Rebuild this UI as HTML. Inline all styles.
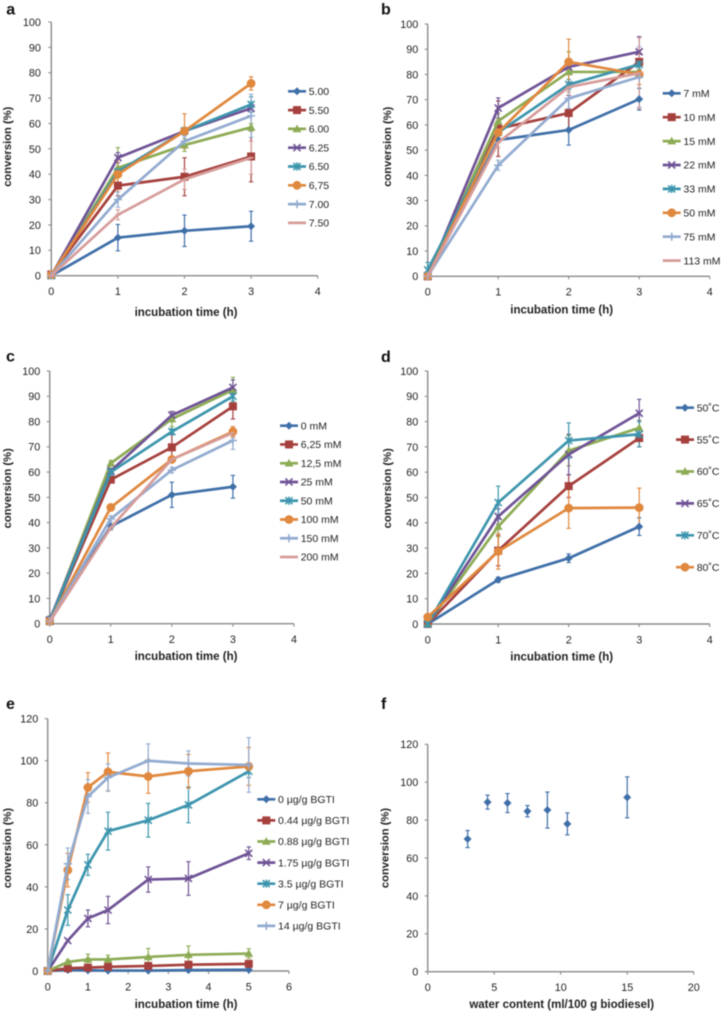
<!DOCTYPE html>
<html lang="en">
<head>
<meta charset="utf-8">
<title>Conversion charts</title>
<style>
html,body{margin:0;padding:0;background:#fff;}
#figure{display:block;width:722px;height:1012px;filter:blur(0.4px);}
text{font-family:"Liberation Sans",sans-serif;fill:#222;}
</style>
</head>
<body>
<svg id="figure" xmlns="http://www.w3.org/2000/svg" width="722" height="1012" viewBox="0 0 722 1012"></svg>
<script>
// ---------- shared ticks ----------
const timeTicksShort = [0, 1, 2, 3, 4];
const percentTicks100 = [0, 10, 20, 30, 40, 50, 60, 70, 80, 90, 100];
const percentTicks120 = [0, 20, 40, 60, 80, 100, 120];
const timeTicksLong = [0, 1, 2, 3, 4, 5, 6];
const waterTicks = [0, 5, 10, 15, 20];

// ---------- panel a ----------
const aTimes = [0, 1, 2, 3];
const aNames = ["5.00", "5.50", "6.00", "6.25", "6.50", "6,75", "7.00", "7.50"];
const aValues = [
  [0, 15, 17.7, 19.5],
  [0.5, 35.5, 39, 47],
  [0, 42.5, 51.5, 58.5],
  [0, 46.5, 57, 66],
  [0, 41, 57, 67.5],
  [0.3, 40, 57, 75.8],
  [0, 30, 53, 63],
  [0, 24, 38, 46.5]
];
const aErrors = [
  [0, 5.2, 6.2, 5.9],
  [0, 4, 7.5, 10],
  [0, 8, 2.5, 1.5],
  [0, 2, 1, 1.5],
  [0, 1.5, 1.5, 3],
  [0, 7, 6.8, 2.6],
  [0, 3, 2, 8.5],
  [0, 2, 4, 6.5]
];

// ---------- panel b ----------
const bTimes = [0, 1, 2, 3];
const bNames = ["7 mM", "10 mM", "15 mM", "22 mM", "33 mM", "50 mM", "75 mM", "113 mM"];
const bValues = [
  [0, 54, 58, 70.2],
  [0, 58.5, 64.7, 85],
  [0, 61.5, 81, 81],
  [0, 66.7, 83, 89],
  [2.5, 57, 76, 84],
  [0, 57, 85, 80],
  [0, 44, 70.5, 79],
  [0, 53, 75, 80.5]
];
const bErrors = [
  [0, 1, 6, 4.3],
  [0, 11, 7, 3],
  [0, 3, 8, 5],
  [0, 4, 1, 6],
  [3, 2, 2, 2],
  [0, 3, 9, 4],
  [0, 2, 4, 12],
  [0, 2, 2, 14]
];

// ---------- panel c ----------
const cTimes = [0, 1, 2, 3];
const cNames = ["0 mM", "6,25 mM", "12,5 mM", "25 mM", "50 mM", "100 mM", "150 mM", "200 mM"];
const cValues = [
  [1.5, 38.5, 51, 54.2],
  [1, 57, 69.8, 86],
  [1, 63.5, 81, 92.5],
  [1.5, 60.5, 82.5, 93.5],
  [1, 60, 76, 90],
  [1, 46, 65, 76],
  [1, 41.5, 60.8, 72.5],
  [0.7, 38, 65, 75.5]
];
const cErrors = [
  [1.5, 1, 5, 4.5],
  [0, 1, 5, 5],
  [0, 1, 3, 5],
  [1, 1, 1.5, 3],
  [0, 1, 1, 2],
  [0, 1, 1, 2],
  [0, 1, 1, 3.5],
  [0, 1, 1, 2]
];

// ---------- panel d ----------
const dTimes = [0, 1, 2, 3];
const dNames = ["50\u02DAC", "55\u02DAC", "60\u02DAC", "65\u02DAC", "70\u02DAC", "80\u02DAC"];
const dValues = [
  [0, 17.5, 26, 38.5],
  [0, 29, 54.5, 73.5],
  [0, 38.5, 68.5, 77.5],
  [0, 42.5, 67, 83.3],
  [0, 48, 72.5, 75],
  [2.7, 28.7, 45.8, 46]
];
const dErrors = [
  [0, 1, 1.7, 3.5],
  [0, 6, 4.5, 3.5],
  [0, 4, 6, 3],
  [0, 3, 8, 5.5],
  [0, 6.5, 7, 5],
  [0, 7, 8, 7.7]
];

// ---------- panel e ----------
const eTimes = [0, 0.5, 1, 1.5, 2.5, 3.5, 5];
const eNames = ["0 \u00B5g/g BGTI", "0.44 \u00B5g/g BGTI", "0.88 \u00B5g/g BGTI", "1.75 \u00B5g/g BGTI", "3.5 \u00B5g/g BGTI", "7 \u00B5g/g BGTI", "14 \u00B5g/g BGTI"];
const eValues = [
  [0, 0.5, 0.3, 0.2, 0.2, 0.4, 0.6],
  [0, 1.3, 1.6, 2, 2.4, 3, 3.4],
  [0, 4.3, 5.5, 5.5, 6.7, 7.7, 8.3],
  [0, 14.5, 25, 29, 43.5, 44, 56],
  [0, 29, 50.5, 66.5, 71.7, 79, 95],
  [0, 48, 87.3, 94.7, 92.5, 95, 97.3],
  [0, 51, 83, 92, 100, 98.7, 98]
];
const eErrors = [
  [0, 0.3, 0.3, 0.3, 0.3, 0.3, 0.3],
  [0, 0.8, 1, 1, 1, 1, 1],
  [0, 1, 2.5, 2, 4, 4.2, 2.3],
  [0, 0.5, 4, 6.5, 6, 8, 3],
  [0, 7.3, 5, 9, 8, 8.5, 3],
  [0, 8, 7, 9, 8, 8, 9],
  [0, 7.5, 8, 6.5, 8, 6, 13]
];

// ---------- panel f ----------
const fWater = [3, 4.5, 6, 7.5, 9, 10.5, 15];
const fNames = ["water content"];
const fValues = [[70, 89.5, 89, 84.7, 85.3, 78, 92]];
const fErrors = [[4.5, 3.7, 5, 3, 9.5, 5.8, 10.8]];

// ---------- series styling ----------
const colors = ["#3f6fa8", "#a5403d", "#8dab55", "#6f5396", "#3d95ad", "#e0883e", "#92abd0", "#d69c9a"];
const markers = ["diamond", "square", "triangle", "cross", "star", "circle", "plus", "dash"];

const svg = document.getElementById("figure");
const NS = "http://www.w3.org/2000/svg";

function make(tag, parent) {
  const el = document.createElementNS(NS, tag);
  parent.appendChild(el);
  return el;
}

function straight(parent, x1, y1, x2, y2, stroke, width) {
  const el = make("line", parent);
  el.setAttribute("x1", x1);
  el.setAttribute("y1", y1);
  el.setAttribute("x2", x2);
  el.setAttribute("y2", y2);
  el.setAttribute("stroke", stroke);
  el.setAttribute("stroke-width", width);
  return el;
}

function label(parent, x, y, content, size, weight, anchor) {
  const el = make("text", parent);
  el.setAttribute("x", x);
  el.setAttribute("y", y);
  el.setAttribute("font-size", size);
  el.setAttribute("font-weight", weight);
  el.setAttribute("text-anchor", anchor);
  el.textContent = content;
  return el;
}

function drawMarker(parent, kind, cx, cy, color) {
  let el;
  if (kind === "diamond") {
    el = make("polygon", parent);
    el.setAttribute("points", `${cx},${cy - 4} ${cx + 4},${cy} ${cx},${cy + 4} ${cx - 4},${cy}`);
    el.setAttribute("fill", color);
  } else if (kind === "square") {
    el = make("rect", parent);
    el.setAttribute("x", cx - 4);
    el.setAttribute("y", cy - 4);
    el.setAttribute("width", 8);
    el.setAttribute("height", 8);
    el.setAttribute("fill", color);
  } else if (kind === "triangle") {
    el = make("polygon", parent);
    el.setAttribute("points", `${cx},${cy - 4.4} ${cx + 4.4},${cy + 3.3} ${cx - 4.4},${cy + 3.3}`);
    el.setAttribute("fill", color);
  } else if (kind === "circle") {
    el = make("circle", parent);
    el.setAttribute("cx", cx);
    el.setAttribute("cy", cy);
    el.setAttribute("r", 4.4);
    el.setAttribute("fill", color);
  } else {
    const s = kind === "dash" ? 2.5 : 3.5;
    let d = "";
    if (kind === "cross" || kind === "star") d += `M${cx - s} ${cy - s}L${cx + s} ${cy + s}M${cx - s} ${cy + s}L${cx + s} ${cy - s}`;
    if (kind === "star") d += `M${cx} ${cy - s - 0.6}V${cy + s + 0.6}`;
    if (kind === "plus") d += `M${cx - s - 0.6} ${cy}H${cx + s + 0.6}M${cx} ${cy - s - 0.6}V${cy + s + 0.6}`;
    if (kind === "dash") d += `M${cx - s} ${cy}H${cx + s}`;
    el = make("path", parent);
    el.setAttribute("d", d);
    el.setAttribute("stroke", color);
    el.setAttribute("stroke-width", 1.6);
    el.setAttribute("fill", "none");
  }
  
  
}

function drawPanel(p) {
  const group = make("g", svg);
  
  

  const xScale = v => p.left + (v - p.xTicks[0]) / (p.xTicks[p.xTicks.length - 1] - p.xTicks[0]) * (p.right - p.left);
  const yScale = v => p.bottom - (v - p.yTicks[0]) / (p.yTicks[p.yTicks.length - 1] - p.yTicks[0]) * (p.bottom - p.top);

  const letter = label(group, p.letterX, p.letterY, p.letter, 16, "bold", "start");
  letter.setAttribute("fill", "#111");
  letter.style.fill = "#111";
  
  

  const yAxis = straight(group, p.left, p.top, p.left, p.bottom, "#8a8a8a", 1.4);
  
  
  const xAxis = straight(group, p.left, p.bottom, p.right, p.bottom, "#8a8a8a", 1.4);
  
  

  p.yTicks.forEach(v => {
    const y = yScale(v);
    const tick = straight(group, p.left - 3, y, p.left, y, "#8a8a8a", 1.1);
    
    
    const t = label(group, p.left - p.yLabelGap, y + 3.9, String(v), 10.8, "normal", "end");
    
    
  });
  p.xTicks.forEach(v => {
    const x = xScale(v);
    const tick = straight(group, x, p.bottom, x, p.bottom + 3, "#8a8a8a", 1.1);
    
    
    const t = label(group, x, p.bottom + 19.3, String(v), 10.8, "normal", "middle");
    
    
  });

  const xTitle = label(group, p.xTitleX, p.xTitleY, p.xTitle, 11.5, "bold", "middle");
  
  
  const yTitle = label(group, 0, 0, "conversion (%)", 11.2, "bold", "middle");
  yTitle.setAttribute("transform", `translate(${p.yTitleX},${p.yTitleY}) rotate(-90)`);
  
  

  // error bars first
  p.values.forEach((series, s) => {
    const g = make("g", group);
    
    
    series.forEach((v, i) => {
      const e = p.errors[s][i];
      if (!e) return;
      const x = xScale(p.xs[i]);
      const yLow = yScale(v - e);
      const yHigh = yScale(v + e);
      const bar = straight(g, x, yLow, x, yHigh, colors[s], 1.2);
      
      
      const capLow = straight(g, x - 2.2, yLow, x + 2.2, yLow, colors[s], 1.1);
      
      
      const capHigh = straight(g, x - 2.2, yHigh, x + 2.2, yHigh, colors[s], 1.1);
      
      
    });
  });

  p.values.forEach((series, s) => {
    const g = make("g", group);
    
    
    if (p.connect) {
      const line = make("polyline", g);
      line.setAttribute("points", series.map((v, i) => xScale(p.xs[i]) + "," + yScale(v)).join(" "));
      line.setAttribute("fill", "none");
      line.setAttribute("stroke", colors[s]);
      line.setAttribute("stroke-width", 2.7);
      line.setAttribute("stroke-linejoin", "round");
      
      
    }
    series.forEach((v, i) => drawMarker(g, markers[s], xScale(p.xs[i]), yScale(v), colors[s]));
  });

  if (p.legendX !== null) {
    const legend = make("g", group);
    
    
    p.names.forEach((name, s) => {
      const y = p.legendY + s * p.legendStep;
      const entry = make("g", legend);
      
      
      const key = straight(entry, p.legendX, y, p.legendX + 18, y, colors[s], 2.7);
      
      
      drawMarker(entry, markers[s], p.legendX + 9, y, colors[s]);
      const t = label(entry, p.legendX + 20.7, y + 3.7, name, 10.5, "normal", "start");
      
      
    });
  }
}

const timeTitle = "incubation time (h)";

drawPanel({ letter: "a", xs: aTimes, names: aNames, values: aValues, errors: aErrors, xTicks: timeTicksShort, yTicks: percentTicks100, xTitle: timeTitle, connect: true,
  left: 51.3, right: 317.7, bottom: 275.7, top: 22, yLabelGap: 10.4,
  letterX: 6.3, letterY: 14.7, xTitleX: 186, xTitleY: 316, yTitleX: 11, yTitleY: 146.7,
  legendX: 288, legendY: 91.3, legendStep: 18.8 });

drawPanel({ letter: "b", xs: bTimes, names: bNames, values: bValues, errors: bErrors, xTicks: timeTicksShort, yTicks: percentTicks100, xTitle: timeTitle, connect: true,
  left: 427.7, right: 709.7, bottom: 276.3, top: 24, yLabelGap: 9.4,
  letterX: 381, letterY: 14.7, xTitleX: 561.7, xTitleY: 313.3, yTitleX: 391, yTitleY: 146.7,
  legendX: 662.7, legendY: 93.3, legendStep: 23.9 });

drawPanel({ letter: "c", xs: cTimes, names: cNames, values: cValues, errors: cErrors, xTicks: timeTicksShort, yTicks: percentTicks100, xTitle: timeTitle, connect: true,
  left: 49.7, right: 294, bottom: 623.7, top: 371, yLabelGap: 9.4,
  letterX: 6, letterY: 361.3, xTitleX: 186, xTitleY: 660, yTitleX: 11, yTitleY: 488.3,
  legendX: 280, legendY: 425.7, legendStep: 18.76 });

drawPanel({ letter: "d", xs: dTimes, names: dNames, values: dValues, errors: dErrors, xTicks: timeTicksShort, yTicks: percentTicks100, xTitle: timeTitle, connect: true,
  left: 427.7, right: 709.7, bottom: 624, top: 371, yLabelGap: 9.4,
  letterX: 381, letterY: 362, xTitleX: 561.7, xTitleY: 660.7, yTitleX: 391, yTitleY: 488.3,
  legendX: 676, legendY: 407.7, legendStep: 31.9 });

drawPanel({ letter: "e", xs: eTimes, names: eNames, values: eValues, errors: eErrors, xTicks: timeTicksLong, yTicks: percentTicks120, xTitle: timeTitle, connect: true,
  left: 47.7, right: 289, bottom: 971, top: 718.7, yLabelGap: 9.4,
  letterX: 6, letterY: 709, xTitleX: 186, xTitleY: 1008, yTitleX: 11, yTitleY: 848,
  legendX: 257.3, legendY: 799.3, legendStep: 21.1 });

drawPanel({ letter: "f", xs: fWater, names: fNames, values: fValues, errors: fErrors, xTicks: waterTicks, yTicks: percentTicks120, xTitle: "water content (ml/100 g biodiesel)", connect: false,
  left: 427.7, right: 693.7, bottom: 971.7, top: 744.3, yLabelGap: 9.4,
  letterX: 381, letterY: 709, xTitleX: 561.7, xTitleY: 1008, yTitleX: 388.3, yTitleY: 848,
  legendX: null, legendY: 0, legendStep: 0 });
</script>
</body>
</html>
